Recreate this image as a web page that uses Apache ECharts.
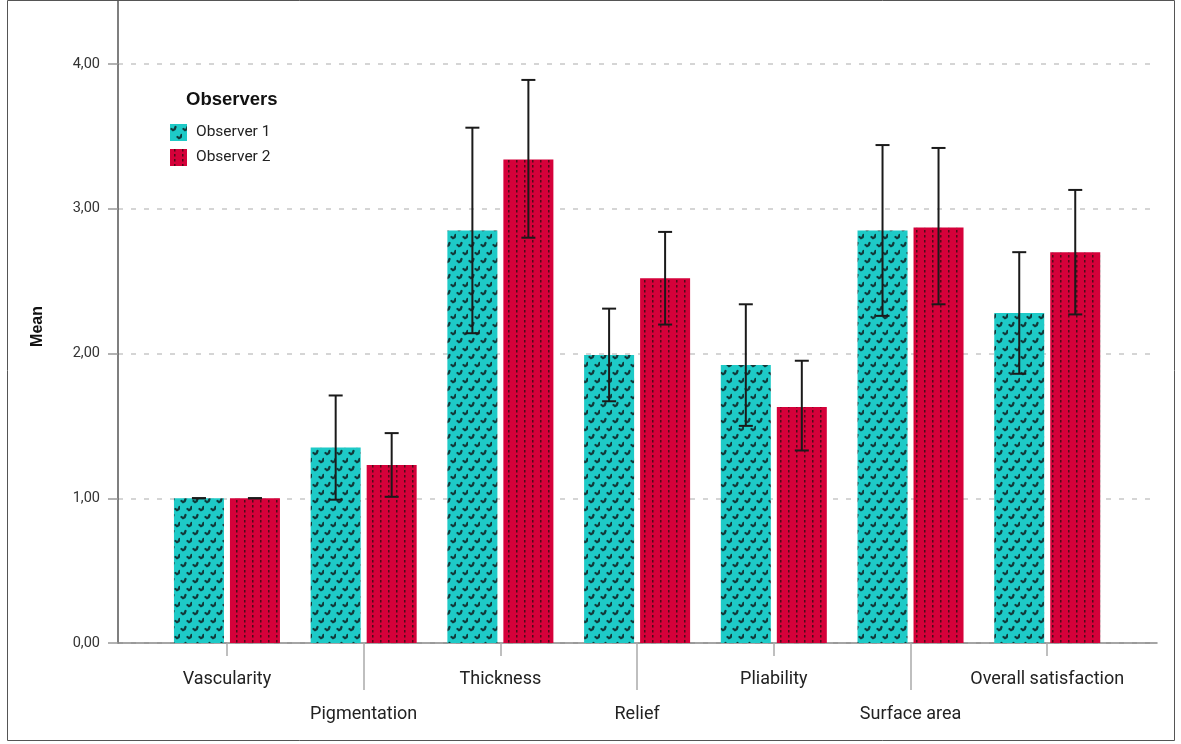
<!DOCTYPE html>
<html>
<head>
<meta charset="utf-8">
<script src="https://cdn.jsdelivr.net/npm/echarts@6/dist/echarts.min.js"></script>
<style>
html,body{margin:0;padding:0;background:#fff;}
#chart{width:1181px;height:744px;}
</style>
</head>
<body>
<div id="chart"></div>
<script>
var categories = ['Vascularity', 'Pigmentation', 'Thickness', 'Relief', 'Pliability', 'Surface area', 'Overall satisfaction'];
var obs1Mean = [1.00, 1.35, 2.85, 1.99, 1.92, 2.85, 2.28];
var obs1Low  = [1.00, 0.99, 2.14, 1.67, 1.50, 2.26, 1.86];
var obs1High = [1.00, 1.71, 3.56, 2.31, 2.34, 3.44, 2.70];
var obs2Mean = [1.00, 1.23, 3.34, 2.52, 1.63, 2.87, 2.70];
var obs2Low  = [1.00, 1.01, 2.80, 2.20, 1.33, 2.34, 2.27];
var obs2High = [1.00, 1.45, 3.89, 2.84, 1.95, 3.42, 3.13];
var yTicks = [0, 1, 2, 3, 4];

// fill patterns
function tealPattern(){
	var c = document.createElement('canvas');
	c.width = 12; c.height = 16;
	var g = c.getContext('2d');
	g.fillStyle = '#1ecac7';
	g.fillRect(0, 0, 12, 16);
	g.strokeStyle = '#113a3b';
	g.lineWidth = 2.2;
	g.lineCap = 'round';
	function hook(x, y){
		g.beginPath();
		g.moveTo(x, y + 2);
		g.lineTo(x + 1.5, y + 3.2);
		g.lineTo(x + 3.2, y + 2.2);
		g.lineTo(x + 4, y);
		g.stroke();
	}
	hook(1.5, 3);
	hook(7.5, 11);
	return {image: c, repeat: 'repeat'};
}
function redPattern(){
	var c = document.createElement('canvas');
	c.width = 8; c.height = 5;
	var g = c.getContext('2d');
	g.fillStyle = '#d5013a';
	g.fillRect(0, 0, 8, 5);
	g.fillStyle = '#4f0b18';
	g.fillRect(4, 0, 1.5, 2.5);
	return {image: c, repeat: 'repeat'};
}

function toErr(lo, hi){
	return lo.map(function(v, i){ return [i, v, hi[i]]; });
}

function errRender(side){
	return function(params, api){
		var i = api.value(0);
		var lo = api.coord([i, api.value(1)]);
		var hi = api.coord([i, api.value(2)]);
		var cx = lo[0] + side * 28;
		var cap = 7;
		var st = {stroke: '#1a1a1a', lineWidth: 2};
		return {type: 'group', children: [
			{type: 'line', shape: {x1: cx, y1: hi[1], x2: cx, y2: lo[1]}, style: st},
			{type: 'line', shape: {x1: cx - cap, y1: hi[1], x2: cx + cap, y2: hi[1]}, style: st},
			{type: 'line', shape: {x1: cx - cap, y1: lo[1], x2: cx + cap, y2: lo[1]}, style: st}
		]};
	};
}

var chart = echarts.init(document.getElementById('chart'));
var font = 'Roboto, "Liberation Sans", Arial, sans-serif';

var option = {
	animation: false,
	textStyle: {fontFamily: font},
	title: {
		text: 'Observers', left: 186, top: 90, padding: 0,
		textStyle: {fontSize: 18.5, fontWeight: 'bold', color: '#111', fontFamily: '"Liberation Sans", Arial, sans-serif'}
	},
	legend: {
		data: ['Observer 1', 'Observer 2'],
		orient: 'vertical', left: 170, top: 124, padding: 0,
		itemWidth: 17, itemHeight: 17, itemGap: 8, icon: 'rect',
		textStyle: {fontSize: 15.5, color: '#222', fontFamily: font, padding: [0, 0, 0, 4]}
	},
	grid: [
		{left: 118, right: 24, top: 64, bottom: 101},
		{left: 158.6, right: 65.4, top: 64, bottom: 101}
	],
	xAxis: [
		{gridIndex: 0, type: 'value', min: 0, max: 1,
			axisLine: {show: true, lineStyle: {color: '#888', width: 1.5}},
			axisTick: {show: false}, axisLabel: {show: false}, splitLine: {show: false}},
		{gridIndex: 1, type: 'category', data: categories, position: 'bottom',
			axisLine: {show: false},
			axisTick: {show: true, alignWithLabel: true, length: 13, lineStyle: {color: '#aaa', width: 1.5},
				interval: function(idx){ return idx % 2 === 0; }},
			axisLabel: {interval: 0, margin: 19, fontSize: 18, color: '#222', lineHeight: 35,
				formatter: function(v, idx){ return idx % 2 === 1 ? '\n' + v : v; }}},
		{gridIndex: 1, type: 'category', data: categories, position: 'bottom',
			axisLine: {show: false},
			axisTick: {show: true, alignWithLabel: true, length: 47, lineStyle: {color: '#aaa', width: 1.5},
				interval: function(idx){ return idx % 2 === 1; }},
			axisLabel: {show: false}}
	],
	yAxis: [
		{gridIndex: 0, type: 'value', min: yTicks[0], max: yTicks[yTicks.length - 1], interval: 1,
			name: 'Mean', nameLocation: 'middle', nameGap: 72, nameRotate: 90,
			nameTextStyle: {fontSize: 16, fontWeight: 'bold', color: '#111', padding: [0, 0, 0, 54],
				fontFamily: '"Liberation Sans", Arial, sans-serif'},
			axisLine: {show: true, lineStyle: {color: '#555', width: 1.5}},
			axisTick: {show: true, length: 10, lineStyle: {color: '#999', width: 1.5}},
			axisLabel: {margin: 18, fontSize: 14.5, color: '#333',
				formatter: function(v){ return v.toFixed(2).replace('.', ','); }},
			splitLine: {show: true, lineStyle: {color: '#c8c8c8', width: 1.5, type: [5, 8]}}},
		{gridIndex: 1, type: 'value', min: yTicks[0], max: yTicks[yTicks.length - 1], show: false,
			splitLine: {show: false}}
	],
	series: [
		{name: 'Observer 1', type: 'bar', xAxisIndex: 1, yAxisIndex: 1,
			barWidth: 50, barGap: '12%', data: obs1Mean,
			itemStyle: {color: tealPattern()}},
		{name: 'Observer 2', type: 'bar', xAxisIndex: 1, yAxisIndex: 1,
			barWidth: 50, barGap: '12%', data: obs2Mean,
			itemStyle: {color: redPattern()}},
		{name: 'err1', type: 'custom', xAxisIndex: 1, yAxisIndex: 1, z: 5,
			renderItem: errRender(-1), data: toErr(obs1Low, obs1High)},
		{name: 'err2', type: 'custom', xAxisIndex: 1, yAxisIndex: 1, z: 5,
			renderItem: errRender(1), data: toErr(obs2Low, obs2High)}
	],
	graphic: [
		{type: 'rect', silent: true, shape: {x: 7.5, y: 0.5, width: 1167, height: 740},
			style: {fill: 'none', stroke: '#555', lineWidth: 1}},
		{type: 'line', silent: true, shape: {x1: 118, y1: 0, x2: 118, y2: 64},
			style: {stroke: '#555', lineWidth: 1.5}}
	]
};
chart.setOption(option);
</script>
</body>
</html>
